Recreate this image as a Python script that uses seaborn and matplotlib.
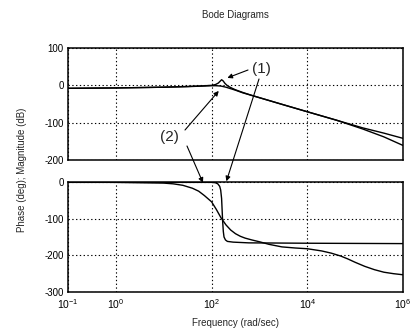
import numpy as np
import pandas as pd
import matplotlib
matplotlib.use("Agg")
import matplotlib.pyplot as plt
from matplotlib.ticker import FixedLocator, FixedFormatter, NullLocator
import seaborn as sns

# Frequency samples (rad/sec) and responses of the two systems
mag1_w = [0.1, 1, 10, 31.6, 63.1, 100, 120, 138, 151, 162, 174, 191, 214, 251, 316, 447, 692,
          3162, 9550, 39800, 144500, 398000, 1e6]
mag1_db = [-8, -7, -5, -3, -1.5, 0, 2, 6, 11, 15, 12, 5, -1, -6, -12, -19, -27,
           -52, -70, -93, -114, -128, -142]

mag2_w = [0.1, 1, 10, 31.6, 63.1, 100, 126, 158, 200, 251, 316, 447, 692,
          3162, 9550, 39800, 144500, 398000, 1e6]
mag2_db = [-8, -7, -5, -3.5, -2, -1, -1, -2, -5, -9, -13, -20, -27,
           -52, -70, -93, -117, -138, -161]

ph1_w = [0.1, 10, 100, 120, 135, 148, 155, 162, 166, 170, 176, 182, 195, 214, 282, 603, 1e4, 1e6]
ph1_deg = [-1, -1, -1, -2, -5, -12, -22, -45, -75, -105, -135, -150, -158, -162, -164, -166, -167, -168]

ph2_w = [0.1, 1, 3.16, 10, 15.8, 25.1, 39.8, 53.7, 70.8, 100, 126, 158, 200, 251, 316, 398, 501,
         692, 1000, 1585, 2951, 5623, 1e4, 19953, 31623, 50119, 70795, 1e5, 158489, 251189,
         398107, 630957, 1e6]
ph2_deg = [0, -1, -2, -3, -5, -9, -17, -25, -37, -54, -75, -98, -117, -131, -141, -148, -153,
           -158, -163, -170, -177, -180, -182, -188, -194, -202, -210, -219, -230, -239,
           -246, -250, -253]

x_ticks = [0.1, 1, 100, 1e4, 1e6]
x_labels = [r"$10^{-1}$", r"$10^{0}$", r"$10^{2}$", r"$10^{4}$", r"$10^{6}$"]
mag_ticks = [-200, -100, 0, 100]
ph_ticks = [-300, -200, -100, 0]

sns.set_style("white")
plt.rcParams["font.family"] = ["Liberation Sans", "DejaVu Sans"]
plt.rcParams["mathtext.default"] = "regular"

W, H = 412, 333
fig = plt.figure(figsize=(W / 100, H / 100), dpi=100)
ax_mag = fig.add_axes([68 / W, 1 - 160 / H, 335 / W, 112 / H])
ax_ph = fig.add_axes([68 / W, 1 - 292 / H, 335 / W, 110 / H])

mag1 = pd.DataFrame({"w": mag1_w, "v": mag1_db})
mag2 = pd.DataFrame({"w": mag2_w, "v": mag2_db})
ph1 = pd.DataFrame({"w": ph1_w, "v": ph1_deg})
ph2 = pd.DataFrame({"w": ph2_w, "v": ph2_deg})

for df in (mag1, mag2):
    sns.lineplot(data=df, x="w", y="v", ax=ax_mag, color="black", linewidth=1.0,
                 estimator=None, sort=False)
for df in (ph1, ph2):
    sns.lineplot(data=df, x="w", y="v", ax=ax_ph, color="black", linewidth=1.0,
                 estimator=None, sort=False)

for ax, yt, ylim in ((ax_mag, mag_ticks, (-200, 100)), (ax_ph, ph_ticks, (-300, 0))):
    ax.set_xscale("log")
    ax.set_xlim(0.1, 1e6)
    ax.set_ylim(*ylim)
    ax.xaxis.set_major_locator(FixedLocator(x_ticks))
    ax.xaxis.set_minor_locator(NullLocator())
    ax.set_yticks(yt)
    ax.set_yticklabels([str(t) for t in yt])
    ax.set_xlabel("")
    ax.set_ylabel("")
    ax.grid(True, linestyle=(0, (1.2, 2.2)), color="black", linewidth=0.8)
    ax.tick_params(direction="in", length=3, width=0.8, labelsize=7, pad=3, colors="black")
    for s in ax.spines.values():
        s.set_color("black")
        s.set_linewidth(1.1)

ax_mag.xaxis.set_major_formatter(FixedFormatter([""] * len(x_ticks)))
ax_ph.xaxis.set_major_formatter(FixedFormatter(x_labels))
ax_ph.tick_params(axis="x", labelsize=7.5, pad=4)

fig.text(235 / W, 1 - 15 / H, "Bode Diagrams", ha="center", va="center", fontsize=7)
fig.text(235 / W, 1 - 323 / H, "Frequency (rad/sec)", ha="center", va="center", fontsize=7)
fig.text(22 / W, 1 - 170 / H, "Phase (deg); Magnitude (dB)", ha="center", va="center",
         rotation=90, fontsize=7)

# Curve labels with pointer arrows
fig.text(261 / W, 1 - 69 / H, "(1)", ha="center", va="center", fontsize=11)
fig.text(169 / W, 1 - 137 / H, "(2)", ha="center", va="center", fontsize=11)

arrow = dict(arrowstyle="-|>", color="black", lw=0.8, mutation_scale=7, shrinkA=0, shrinkB=0)
ax_mag.annotate("", xy=(10 ** 2.33, 20), xycoords="data",
                xytext=(248, H - 70), textcoords="figure pixels",
                arrowprops=arrow, annotation_clip=False)
ax_ph.annotate("", xy=(10 ** 2.31, 2), xycoords="data",
               xytext=(259, H - 79), textcoords="figure pixels",
               arrowprops=arrow, annotation_clip=False)
ax_mag.annotate("", xy=(10 ** 2.15, -15), xycoords="data",
                xytext=(185, H - 130), textcoords="figure pixels",
                arrowprops=arrow, annotation_clip=False)
ax_ph.annotate("", xy=(10 ** 1.82, -2), xycoords="data",
               xytext=(187, H - 146), textcoords="figure pixels",
               arrowprops=arrow, annotation_clip=False)

fig.savefig("out.png", dpi=100, facecolor="white")
